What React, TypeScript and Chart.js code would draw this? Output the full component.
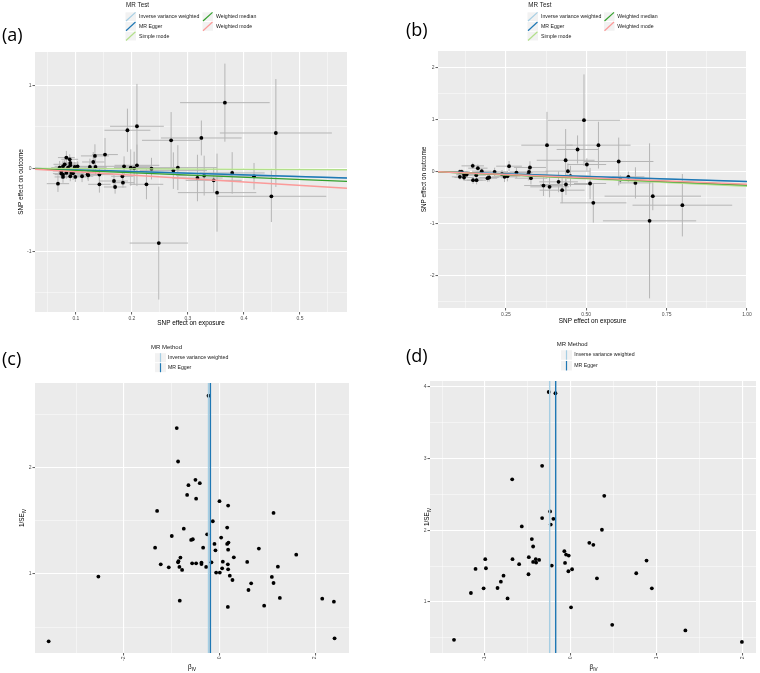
import React, { useEffect, useRef } from "react";
import { Chart, registerables } from "chart.js";

Chart.register(...registerables);

const FONT = "'Liberation Sans', Arial, Helvetica, sans-serif";
const TAG_FONT = "'Open Sans', 'Noto Sans', sans-serif";

// ---------- MR methods ----------
const mrTestMethods = ["Inverse variance weighted", "MR Egger", "Simple mode", "Weighted median", "Weighted mode"];
const mrTestColors = ["#A6CEE3", "#1F78B4", "#B2DF8A", "#33A02C", "#FB9A99"];
const mrMethodNames = ["Inverse variance weighted", "MR Egger"];
const mrMethodColors = ["#A6CEE3", "#1F78B4"];

// ---------- Panel (a): SNP effect on exposure vs outcome ----------
const aExposure = [0.366, 0.457, 0.324, 0.270, 0.209, 0.192, 0.152, 0.134, 0.131, 0.125, 0.135, 0.186, 0.198, 0.204, 0.209, 0.235, 0.274, 0.282, 0.379, 0.418, 0.346, 0.317, 0.329, 0.352, 0.449, 0.248, 0.226, 0.184, 0.170, 0.168, 0.183, 0.142, 0.142, 0.122, 0.121, 0.111, 0.099, 0.090, 0.068, 0.077, 0.074, 0.083, 0.092, 0.095, 0.083, 0.089, 0.090, 0.090, 0.080, 0.077, 0.071, 0.086, 0.098, 0.103, 0.077, 0.074];
const aOutcome = [0.79, 0.425, 0.365, 0.337, 0.506, 0.458, 0.165, 0.149, 0.076, 0.016, 0.016, 0.024, 0.008, 0.0, 0.036, -0.004, -0.028, 0.008, -0.056, -0.096, -0.145, -0.117, -0.088, -0.293, -0.337, -0.90, -0.193, -0.173, -0.225, -0.153, -0.096, -0.193, -0.076, -0.084, -0.072, -0.096, -0.104, -0.096, -0.185, -0.104, -0.064, -0.056, -0.056, -0.060, 0.129, 0.108, 0.064, 0.036, 0.048, 0.024, 0.008, 0.008, 0.016, 0.024, -0.076, -0.032];
const aExposureSe = [0.080, 0.100, 0.072, 0.052, 0.048, 0.041, 0.023, 0.025, 0.020, 0.030, 0.020, 0.050, 0.030, 0.035, 0.040, 0.040, 0.060, 0.070, 0.058, 0.045, 0.050, 0.045, 0.050, 0.070, 0.098, 0.052, 0.030, 0.020, 0.020, 0.025, 0.020, 0.020, 0.025, 0.020, 0.020, 0.020, 0.020, 0.015, 0.020, 0.015, 0.015, 0.015, 0.015, 0.020, 0.015, 0.015, 0.015, 0.015, 0.020, 0.015, 0.015, 0.015, 0.020, 0.020, 0.015, 0.015];
const aOutcomeSe = [0.47, 0.65, 0.21, 0.34, 0.51, 0.26, 0.20, 0.14, 0.12, 0.10, 0.09, 0.12, 0.22, 0.20, 0.25, 0.13, 0.22, 0.27, 0.25, 0.16, 0.15, 0.28, 0.24, 0.47, 0.31, 0.68, 0.18, 0.06, 0.08, 0.07, 0.06, 0.10, 0.08, 0.07, 0.06, 0.07, 0.06, 0.06, 0.10, 0.07, 0.06, 0.07, 0.06, 0.08, 0.08, 0.06, 0.07, 0.06, 0.09, 0.07, 0.08, 0.06, 0.06, 0.06, 0.05, 0.06];
const aSlopes = [-0.20, -0.205, -0.03, -0.27, -0.41];
const aIntercepts = [0, 0.003, 0, 0, 0];
const aXRange = [0.027, 0.584];
const aYRange = [-1.73, 1.40];
const aXTicks = [0.1, 0.2, 0.3, 0.4, 0.5];
const aXTickLabels = ["0.1", "0.2", "0.3", "0.4", "0.5"];
const aXMinor = [0.05, 0.15, 0.25, 0.35, 0.45, 0.55];
const aYTicks = [-1, 0, 1];
const aYTickLabels = ["-1", "0", "1"];
const aYMinor = [-1.5, -0.5, 0.5];

// ---------- Panel (b) ----------
const bExposure = [0.493, 0.378, 0.538, 0.473, 0.436, 0.502, 0.601, 0.443, 0.451, 0.606, 0.631, 0.653, 0.512, 0.522, 0.707, 0.799, 0.697, 0.414, 0.437, 0.425, 0.386, 0.367, 0.325, 0.322, 0.320, 0.328, 0.283, 0.260, 0.255, 0.246, 0.238, 0.215, 0.198, 0.193, 0.175, 0.163, 0.158, 0.159, 0.148, 0.147, 0.128, 0.120, 0.107, 0.113, 0.107, 0.120];
const bOutcome = [0.98, 0.50, 0.50, 0.417, 0.21, 0.128, 0.186, 0.0, -0.096, -0.16, -0.109, -0.225, -0.237, -0.609, -0.48, -0.654, -0.955, -0.205, -0.256, -0.365, -0.301, -0.276, 0.071, -0.013, -0.058, -0.135, -0.026, 0.096, -0.096, -0.109, -0.058, -0.013, -0.122, -0.135, 0.0, 0.058, -0.077, -0.173, -0.173, 0.102, -0.064, -0.122, -0.013, -0.013, -0.109, -0.07];
const bExposureSe = [0.112, 0.080, 0.100, 0.065, 0.090, 0.060, 0.108, 0.070, 0.060, 0.050, 0.050, 0.050, 0.050, 0.103, 0.150, 0.155, 0.145, 0.060, 0.080, 0.070, 0.060, 0.060, 0.050, 0.060, 0.060, 0.050, 0.050, 0.040, 0.040, 0.040, 0.050, 0.040, 0.030, 0.030, 0.030, 0.030, 0.030, 0.030, 0.030, 0.035, 0.030, 0.030, 0.025, 0.025, 0.025, 0.025];
const bOutcomeSe = [0.88, 0.64, 0.45, 0.27, 0.60, 0.12, 0.46, 0.15, 0.20, 0.08, 0.10, 0.30, 0.30, 0.38, 0.27, 0.60, 1.49, 0.20, 0.20, 0.25, 0.20, 0.20, 0.12, 0.10, 0.12, 0.12, 0.10, 0.10, 0.10, 0.10, 0.08, 0.08, 0.08, 0.07, 0.06, 0.07, 0.07, 0.08, 0.07, 0.06, 0.06, 0.05, 0.05, 0.05, 0.05, 0.05];
const bSlopes = [-0.20, -0.195, -0.29, -0.265, -0.25];
const bIntercepts = [0, -0.004, 0, 0, 0];
const bXRange = [0.039, 1.0];
const bYRange = [-2.63, 2.31];
const bXTicks = [0.25, 0.5, 0.75, 1.0];
const bXTickLabels = ["0.25", "0.50", "0.75", "1.00"];
const bXMinor = [0.125, 0.375, 0.625, 0.875];
const bYTicks = [-2, -1, 0, 1, 2];
const bYTickLabels = ["-2", "-1", "0", "1", "2"];
const bYMinor = [-2.5, -1.5, -0.5, 0.5, 1.5];

// ---------- Panel (c): funnel ----------
const cBeta = [-0.894, -0.866, -0.503, -0.412, -0.649, -0.677, -0.489, 0.0, 0.181, -1.305, 1.131, -0.14, -0.747, 0.161, -0.998, -0.258, 0.035, -0.558, -0.593, 0.188, 0.161, -0.105, -0.342, -1.347, 0.824, -0.084, 0.181, 1.606, -0.817, 0.3, -0.859, -0.866, -0.168, 0.07, 0.58, -1.229, -0.572, -0.489, -0.377, -0.377, 0.175, -0.838, -1.061, -0.279, 1.222, 0.056, -0.782, 0.181, -0.07, 0.007, -2.534, 0.216, 1.096, 0.272, 0.663, 1.131, 0.607, 1.263, 2.15, 2.394, -0.831, 0.935, 0.175, -3.574, 2.408, -0.23];
const cInvSe = [2.375, 2.06, 1.887, 1.856, 1.837, 1.745, 1.71, 1.686, 1.645, 1.594, 1.575, 1.497, 1.427, 1.437, 1.358, 1.374, 1.343, 1.327, 1.321, 1.296, 1.283, 1.283, 1.248, 1.248, 1.239, 1.223, 1.229, 1.182, 1.154, 1.157, 1.12, 1.11, 1.11, 1.116, 1.113, 1.091, 1.1, 1.1, 1.107, 1.094, 1.091, 1.066, 1.063, 1.066, 1.069, 1.053, 1.038, 1.044, 1.013, 1.013, 0.975, 0.984, 0.972, 0.943, 0.912, 0.915, 0.849, 0.774, 0.767, 0.739, 0.748, 0.701, 0.689, 0.365, 0.393, 2.68];
const cEstimates = [-0.23, -0.19];
const cXRange = [-3.86, 2.71];
const cYRange = [0.255, 2.80];
const cXTicks = [-2, 0, 2];
const cXTickLabels = ["-2", "0", "2"];
const cXMinor = [-3, -1, 1];
const cYTicks = [1, 2];
const cYTickLabels = ["1", "2"];
const cYMinor = [0.5, 1.5, 2.5];

// ---------- Panel (d): funnel ----------
const dBeta = [-0.256, -0.178, -0.333, -0.682, 0.391, -0.24, -0.333, -0.202, -0.233, -0.57, 0.364, -0.453, 0.217, 0.264, -0.438, -0.074, -0.054, -0.023, -0.488, -0.996, -0.678, -0.407, -0.368, 0.884, -0.438, -0.403, -0.066, -0.601, -0.221, -1.109, -0.988, 0.016, -0.027, -0.492, 0.764, -0.783, 0.306, -0.814, -0.853, -1.015, 0.946, -1.163, -0.736, 0.004, 0.484, 1.337, -1.36, 1.996];
const dInvSe = [3.927, 3.909, 2.898, 2.71, 2.48, 2.263, 2.17, 2.16, 2.08, 2.053, 2.007, 1.877, 1.825, 1.797, 1.774, 1.709, 1.662, 1.648, 1.625, 1.597, 1.597, 1.597, 1.587, 1.578, 1.559, 1.55, 1.545, 1.527, 1.508, 1.462, 1.471, 1.457, 1.429, 1.387, 1.401, 1.368, 1.331, 1.284, 1.196, 1.191, 1.191, 1.126, 1.051, 0.926, 0.683, 0.604, 0.473, 0.445];
const dEstimates = [-0.245, -0.175];
const dXRange = [-1.64, 2.16];
const dYRange = [0.29, 4.08];
const dXTicks = [-1, 0, 1, 2];
const dXTickLabels = ["-1", "0", "1", "2"];
const dXMinor = [-1.5, -0.5, 0.5, 1.5];
const dYTicks = [1, 2, 3, 4];
const dYTickLabels = ["1", "2", "3", "4"];
const dYMinor = [0.5, 1.5, 2.5, 3.5];

type Seg = { t: string; sub?: boolean };

interface LegendSpec {
  title: string;
  titleX: number;
  titleY: number;
  titleSize: number;
  kind: "diag" | "vert";
  names: string[];
  colors: string[];
  keyW: number;
  keyH: number;
  cols: number[][]; // [keyX, textX]
  rows: number[]; // row centre y
  perCol: number;
}

interface PanelSpec {
  left: number;
  top: number;
  width: number;
  height: number;
  area: { l: number; t: number; r: number; b: number };
  xRange: number[];
  yRange: number[];
  xTicks: number[];
  xTickLabels: string[];
  xMinor: number[];
  yTicks: number[];
  yTickLabels: string[];
  yMinor: number[];
  rotateX: boolean;
  datasets: any[];
  errors?: { x: number[]; y: number[]; sx: number[]; sy: number[] };
  vlines?: { values: number[]; colors: string[] };
  xTitle: Seg[];
  xTitlePos: number[];
  yTitle: Seg[];
  yTitlePos: number[];
  tag: string;
  tagPos: number[];
  legend: LegendSpec;
}

function pointsDataset(xs: number[], ys: number[]) {
  return {
    type: "scatter",
    data: xs.map((x, i) => ({ x, y: ys[i] })),
    pointRadius: 1.9,
    pointBackgroundColor: "#000000",
    pointBorderWidth: 0,
    order: 10,
  };
}

function ablineDatasets(slopes: number[], intercepts: number[], xRange: number[]) {
  return mrTestMethods.map((name, i) => ({
    type: "line",
    label: name,
    data: xRange.map((x) => ({ x, y: intercepts[i] + slopes[i] * x })),
    borderColor: mrTestColors[i],
    borderWidth: 1.4,
    pointRadius: 0,
    fill: false,
    order: 5 - i,
  }));
}

function makeScale(horizontal: boolean, range: number[], major: number[], labels: string[], minor: number[], size: number, rotate: boolean) {
  const tickList = [
    ...major.map((v, i) => ({ value: v, txt: labels[i], minor: false })),
    ...minor.map((v) => ({ value: v, txt: "", minor: true })),
  ].sort((p, q) => p.value - q.value);
  return {
    type: "linear",
    min: range[0],
    max: range[1],
    afterBuildTicks: (scale: any) => {
      scale.ticks = tickList.map((t) => ({ ...t }));
    },
    afterFit: (scale: any) => {
      if (horizontal) scale.height = size;
      else scale.width = size;
    },
    ticks: {
      autoSkip: false,
      padding: 1,
      color: "#4D4D4D",
      font: { family: FONT, size: 5 },
      maxRotation: rotate ? 90 : 0,
      minRotation: rotate ? 90 : 0,
      callback: (_v: any, i: number, arr: any[]) => arr[i].txt,
    },
    grid: {
      color: (c: any) => (c.tick && c.tick.minor ? "rgba(255,255,255,0.75)" : "#FFFFFF"),
      lineWidth: (c: any) => (c.tick && c.tick.minor ? 0.6 : 1.1),
      drawTicks: true,
      tickLength: 2.5,
      tickWidth: 0.8,
      tickColor: (c: any) => (c.tick && c.tick.minor ? "rgba(0,0,0,0)" : "#333333"),
    },
    border: { display: false },
  };
}

function drawRich(ctx: CanvasRenderingContext2D, segs: Seg[], cx: number, cy: number, rot: number, size: number) {
  ctx.save();
  ctx.translate(cx, cy);
  ctx.rotate(rot);
  ctx.fillStyle = "#000000";
  ctx.textAlign = "left";
  ctx.textBaseline = "alphabetic";
  const widths = segs.map((s) => {
    ctx.font = `${s.sub ? size * 0.72 : size}px ${FONT}`;
    return ctx.measureText(s.t).width;
  });
  let x = -widths.reduce((p, q) => p + q, 0) / 2;
  segs.forEach((s, i) => {
    ctx.font = `${s.sub ? size * 0.72 : size}px ${FONT}`;
    ctx.fillText(s.t, x, size * 0.36 + (s.sub ? size * 0.28 : 0));
    x += widths[i];
  });
  ctx.restore();
}

function panelPlugin(spec: PanelSpec) {
  return {
    id: "panelDecor",
    beforeDraw(chart: any) {
      const { ctx, chartArea: a } = chart;
      ctx.save();
      ctx.fillStyle = "#EBEBEB";
      ctx.fillRect(a.left, a.top, a.right - a.left, a.bottom - a.top);
      ctx.restore();
    },
    beforeDatasetsDraw(chart: any) {
      const e = spec.errors;
      if (!e) return;
      const { ctx, chartArea: a, scales } = chart;
      const xs = scales.x;
      const ys = scales.y;
      ctx.save();
      ctx.beginPath();
      ctx.rect(a.left, a.top, a.right - a.left, a.bottom - a.top);
      ctx.clip();
      ctx.strokeStyle = "#B5B5B5";
      ctx.lineWidth = 1;
      e.x.forEach((bx, i) => {
        const by = e.y[i];
        const px = xs.getPixelForValue(bx);
        const py = ys.getPixelForValue(by);
        ctx.beginPath();
        ctx.moveTo(xs.getPixelForValue(bx - e.sx[i]), py);
        ctx.lineTo(xs.getPixelForValue(bx + e.sx[i]), py);
        ctx.moveTo(px, ys.getPixelForValue(by - e.sy[i]));
        ctx.lineTo(px, ys.getPixelForValue(by + e.sy[i]));
        ctx.stroke();
      });
      ctx.restore();
    },
    afterDatasetsDraw(chart: any) {
      const v = spec.vlines;
      if (!v) return;
      const { ctx, chartArea: a, scales } = chart;
      ctx.save();
      ctx.lineWidth = 1.4;
      v.values.forEach((val, i) => {
        const px = scales.x.getPixelForValue(val);
        ctx.strokeStyle = v.colors[i];
        ctx.beginPath();
        ctx.moveTo(px, a.top);
        ctx.lineTo(px, a.bottom);
        ctx.stroke();
      });
      ctx.restore();
    },
    afterDraw(chart: any) {
      const ctx: CanvasRenderingContext2D = chart.ctx;
      const ox = spec.left;
      const oy = spec.top;
      // axis titles
      drawRich(ctx, spec.xTitle, spec.xTitlePos[0] - ox, spec.xTitlePos[1] - oy, 0, 6.4);
      drawRich(ctx, spec.yTitle, spec.yTitlePos[0] - ox, spec.yTitlePos[1] - oy, -Math.PI / 2, 6.4);
      // panel tag
      ctx.save();
      ctx.fillStyle = "#000000";
      ctx.font = `18px ${TAG_FONT}`;
      ctx.textAlign = "left";
      ctx.textBaseline = "middle";
      ctx.fillText(spec.tag, spec.tagPos[0] - ox, spec.tagPos[1] - oy);
      // legend
      const lg = spec.legend;
      ctx.font = `${lg.titleSize}px ${FONT}`;
      ctx.fillStyle = "#1A1A1A";
      ctx.fillText(lg.title, lg.titleX - ox, lg.titleY - oy);
      lg.names.forEach((name, i) => {
        const col = Math.floor(i / lg.perCol);
        const row = i % lg.perCol;
        const kx = lg.cols[col][0] - ox;
        const ky = lg.rows[row] - oy - lg.keyH / 2;
        ctx.fillStyle = "#F2F2F2";
        ctx.fillRect(kx, ky + 0.5, lg.keyW, lg.keyH - 1);
        ctx.strokeStyle = lg.colors[i];
        ctx.lineWidth = 1.2;
        ctx.beginPath();
        if (lg.kind === "diag") {
          ctx.moveTo(kx + 0.5, ky + lg.keyH - 0.5);
          ctx.lineTo(kx + lg.keyW - 0.5, ky + 0.5);
        } else {
          ctx.moveTo(kx + lg.keyW / 2, ky + 0.5);
          ctx.lineTo(kx + lg.keyW / 2, ky + lg.keyH - 0.5);
        }
        ctx.stroke();
        ctx.fillStyle = "#1A1A1A";
        ctx.font = `5.2px ${FONT}`;
        ctx.fillText(name, lg.cols[col][1] - ox, lg.rows[row] - oy);
      });
      ctx.restore();
    },
  };
}

const betaIV: Seg[] = [{ t: "β" }, { t: "IV", sub: true }];
const invSeIV: Seg[] = [{ t: "1/SE" }, { t: "IV", sub: true }];

const panelA: PanelSpec = {
  left: 0, top: 0, width: 380, height: 340,
  area: { l: 35, t: 52, r: 347, b: 312 },
  xRange: aXRange, yRange: aYRange,
  xTicks: aXTicks, xTickLabels: aXTickLabels, xMinor: aXMinor,
  yTicks: aYTicks, yTickLabels: aYTickLabels, yMinor: aYMinor,
  rotateX: false,
  datasets: [pointsDataset(aExposure, aOutcome), ...ablineDatasets(aSlopes, aIntercepts, aXRange)],
  errors: { x: aExposure, y: aOutcome, sx: aExposureSe, sy: aOutcomeSe },
  xTitle: [{ t: "SNP effect on exposure" }], xTitlePos: [191, 323],
  yTitle: [{ t: "SNP effect on outcome" }], yTitlePos: [21, 182],
  tag: "(a)", tagPos: [2, 36],
  legend: {
    title: "MR Test", titleX: 126, titleY: 5.5, titleSize: 6.3, kind: "diag",
    names: mrTestMethods, colors: mrTestColors, keyW: 10.5, keyH: 9.7,
    cols: [[125.5, 139], [202.5, 216]], rows: [16.7, 26.4, 36.1], perCol: 3,
  },
};

const panelB: PanelSpec = {
  left: 380, top: 0, width: 380, height: 340,
  area: { l: 438, t: 51, r: 747, b: 308 },
  xRange: bXRange, yRange: bYRange,
  xTicks: bXTicks, xTickLabels: bXTickLabels, xMinor: bXMinor,
  yTicks: bYTicks, yTickLabels: bYTickLabels, yMinor: bYMinor,
  rotateX: false,
  datasets: [pointsDataset(bExposure, bOutcome), ...ablineDatasets(bSlopes, bIntercepts, bXRange)],
  errors: { x: bExposure, y: bOutcome, sx: bExposureSe, sy: bOutcomeSe },
  xTitle: [{ t: "SNP effect on exposure" }], xTitlePos: [592.5, 321],
  yTitle: [{ t: "SNP effect on outcome" }], yTitlePos: [424, 179.5],
  tag: "(b)", tagPos: [406, 31],
  legend: {
    title: "MR Test", titleX: 528.3, titleY: 5.5, titleSize: 6.3, kind: "diag",
    names: mrTestMethods, colors: mrTestColors, keyW: 10.5, keyH: 9.7,
    cols: [[527.5, 541], [604, 617.3]], rows: [16.7, 26.4, 36.1], perCol: 3,
  },
};

const panelC: PanelSpec = {
  left: 0, top: 340, width: 380, height: 333,
  area: { l: 35, t: 383, r: 349, b: 653 },
  xRange: cXRange, yRange: cYRange,
  xTicks: cXTicks, xTickLabels: cXTickLabels, xMinor: cXMinor,
  yTicks: cYTicks, yTickLabels: cYTickLabels, yMinor: cYMinor,
  rotateX: true,
  datasets: [pointsDataset(cBeta, cInvSe)],
  vlines: { values: cEstimates, colors: mrMethodColors },
  xTitle: betaIV, xTitlePos: [192, 666.5],
  yTitle: invSeIV, yTitlePos: [22, 518],
  tag: "(c)", tagPos: [2, 359.5],
  legend: {
    title: "MR Method", titleX: 151, titleY: 347, titleSize: 6, kind: "vert",
    names: mrMethodNames, colors: mrMethodColors, keyW: 11, keyH: 10,
    cols: [[155, 168]], rows: [357.7, 367.7], perCol: 2,
  },
};

const panelD: PanelSpec = {
  left: 380, top: 340, width: 380, height: 333,
  area: { l: 430, t: 381, r: 757, b: 653 },
  xRange: dXRange, yRange: dYRange,
  xTicks: dXTicks, xTickLabels: dXTickLabels, xMinor: dXMinor,
  yTicks: dYTicks, yTickLabels: dYTickLabels, yMinor: dYMinor,
  rotateX: true,
  datasets: [pointsDataset(dBeta, dInvSe)],
  vlines: { values: dEstimates, colors: mrMethodColors },
  xTitle: betaIV, xTitlePos: [593.5, 666.5],
  yTitle: invSeIV, yTitlePos: [426.5, 517],
  tag: "(d)", tagPos: [406, 357],
  legend: {
    title: "MR Method", titleX: 556.7, titleY: 344, titleSize: 6, kind: "vert",
    names: mrMethodNames, colors: mrMethodColors, keyW: 11, keyH: 10.5,
    cols: [[561, 574.3]], rows: [355, 365.7], perCol: 2,
  },
};

function buildConfig(spec: PanelSpec): any {
  const a = spec.area;
  return {
    type: "scatter",
    data: { datasets: spec.datasets },
    options: {
      responsive: false,
      maintainAspectRatio: false,
      animation: false,
      devicePixelRatio: 1,
      events: [],
      layout: {
        padding: { left: 0, top: a.t - spec.top, right: spec.left + spec.width - a.r, bottom: 0 },
      },
      plugins: { legend: { display: false }, tooltip: { enabled: false }, title: { display: false } },
      scales: {
        x: makeScale(true, spec.xRange, spec.xTicks, spec.xTickLabels, spec.xMinor, spec.top + spec.height - a.b, spec.rotateX),
        y: makeScale(false, spec.yRange, spec.yTicks, spec.yTickLabels, spec.yMinor, a.l - spec.left, false),
      },
    },
    plugins: [panelPlugin(spec)],
  };
}

function Panel({ spec }: { spec: PanelSpec }) {
  const ref = useRef<HTMLCanvasElement | null>(null);
  useEffect(() => {
    if (!ref.current) return;
    const chart = new Chart(ref.current, buildConfig(spec));
    return () => chart.destroy();
  }, [spec]);
  return (
    <canvas
      ref={ref}
      width={spec.width}
      height={spec.height}
      style={{ position: "absolute", left: spec.left, top: spec.top, width: spec.width, height: spec.height }}
    />
  );
}

export default function App() {
  return (
    <div style={{ position: "fixed", left: 0, top: 0, width: 760, height: 673, background: "#FFFFFF", overflow: "hidden" }}>
      <Panel spec={panelA} />
      <Panel spec={panelB} />
      <Panel spec={panelC} />
      <Panel spec={panelD} />
    </div>
  );
}
